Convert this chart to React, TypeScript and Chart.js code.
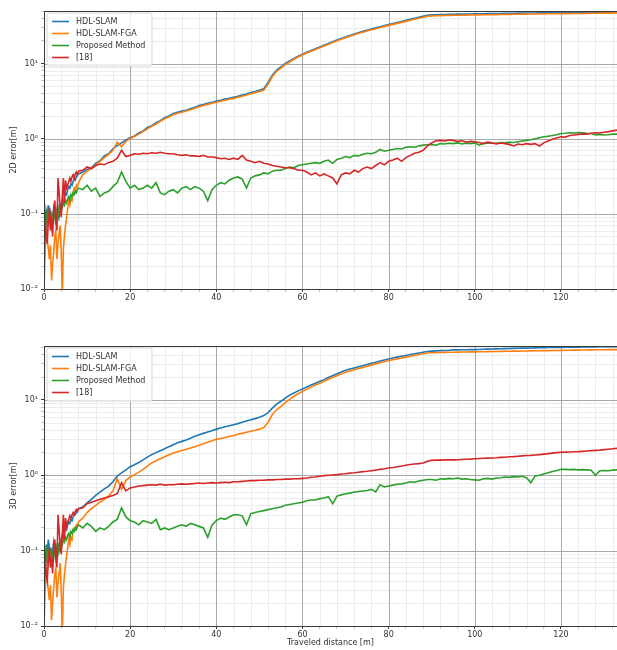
import React, { useEffect, useRef } from "react";
import { Chart, registerables } from "chart.js";
Chart.register(...registerables);

// ---------- data ----------
const DIST = [
  0, 0.25, 0.5, 0.75, 1, 1.25, 1.5, 1.75, 2, 2.25, 2.5, 2.75, 3, 3.25, 3.5, 3.75, 4, 4.25, 4.5, 4.75,
  5, 5.25, 5.5, 5.75, 6, 6.25, 6.5, 6.75, 7, 7.25, 7.5, 7.75, 8,
  9, 10, 11, 12, 13, 14, 15, 16, 17, 18,
  19, 20, 21, 22, 23, 24, 25, 26, 27, 28,
  29, 30, 31, 32, 33, 34, 35, 36, 37, 38,
  39, 40, 41, 42, 43, 44, 45, 46, 47, 48,
  49, 50, 51, 52, 53, 54, 55, 56, 57, 58,
  59, 60, 61, 62, 63, 64, 65, 66, 67, 68,
  69, 70, 71, 72, 73, 74, 75, 76, 77, 78,
  79, 80, 81, 82, 83, 84, 85, 86, 87, 88,
  89, 90, 91, 92, 93, 94, 95, 96, 97, 98,
  99, 100, 101, 102, 103, 104, 105, 106, 107, 108,
  109, 110, 111, 112, 113, 114, 115, 116, 117, 118,
  119, 120, 121, 122, 123, 124, 125, 126, 127, 128,
  129, 130, 131, 132, 133,
];

const SERIES_NAMES = ["HDL-SLAM", "HDL-SLAM-FGA", "Proposed Method", "[18]"];
const SERIES_COLORS = ["#1f77b4", "#ff7f0e", "#2ca02c", "#d62728"];

// 2D error
const TOP_HDL = [
  0.02, 0.05, 0.11, 0.09, 0.13, 0.08, 0.1, 0.07, 0.09, 0.12, 0.1, 0.08, 0.1, 0.12, 0.09, 0.11, 0.13, 0.15, 0.14, 0.17,
  0.19, 0.18, 0.21, 0.23, 0.22, 0.25, 0.24, 0.27, 0.29, 0.28, 0.31, 0.33, 0.34,
  0.36, 0.39, 0.41, 0.47, 0.51, 0.59, 0.63, 0.73, 0.81, 0.88,
  0.96, 1.03, 1.09, 1.19, 1.27, 1.41, 1.49, 1.63, 1.74, 1.9,
  2.0, 2.16, 2.24, 2.33, 2.39, 2.51, 2.61, 2.76, 2.84, 2.96,
  3.04, 3.16, 3.24, 3.36, 3.44, 3.56, 3.67, 3.81, 3.94, 4.11,
  4.24, 4.41, 4.6, 5.6, 7.0, 8.2, 9.0, 10.0, 10.8, 11.7,
  12.5, 13.3, 14.1, 14.9, 15.7, 16.6, 17.5, 18.5, 19.5, 20.5,
  21.5, 22.6, 23.6, 24.7, 25.7, 26.8, 27.8, 28.8, 29.8, 30.9,
  32, 33, 34.1, 35.2, 36.3, 37.5, 38.7, 40, 41.3, 42.6,
  44, 44.4, 44.6, 44.8, 45, 45.1, 45.3, 45.4, 45.5, 45.6,
  45.7, 45.8, 45.9, 46, 46.1, 46.2, 46.3, 46.4, 46.5, 46.6,
  46.7, 46.8, 46.9, 47, 47.1, 47.1, 47.2, 47.3, 47.4, 47.5,
  47.5, 47.6, 47.7, 47.7, 47.8, 47.9, 47.9, 48, 48.1, 48.1,
  48.2, 48.3, 48.3, 48.4, 48.5,
];
const TOP_FGA = [
  0.01, 0.03, 0.065, 0.045, 0.035, 0.025, 0.038, 0.013, 0.022, 0.03, 0.05, 0.06, 0.025, 0.04, 0.055, 0.07, 0.03, 0.008, 0.035, 0.05,
  0.07, 0.09, 0.12, 0.15, 0.13, 0.16, 0.15, 0.19, 0.22, 0.2, 0.24, 0.23, 0.26,
  0.33, 0.37, 0.4, 0.45, 0.5, 0.56, 0.62, 0.7, 0.9, 0.78,
  0.92, 1.0, 1.07, 1.15, 1.24, 1.35, 1.46, 1.57, 1.7, 1.84,
  1.95, 2.08, 2.18, 2.25, 2.33, 2.43, 2.54, 2.66, 2.76, 2.86,
  2.96, 3.05, 3.15, 3.24, 3.34, 3.44, 3.56, 3.68, 3.82, 3.96,
  4.1, 4.25, 4.4, 5.3, 6.7, 7.9, 8.7, 9.7, 10.5, 11.4,
  12.2, 13, 13.8, 14.6, 15.4, 16.2, 17.1, 18.1, 19.1, 20.1,
  21.1, 22.1, 23.1, 24.1, 25.1, 26.1, 27.1, 28.1, 29.1, 30.1,
  31.2, 32.2, 33.2, 34.2, 35.3, 36.4, 37.6, 38.8, 40, 41.3,
  42.6, 43, 43.2, 43.4, 43.6, 43.7, 43.8, 43.9, 44, 44.1,
  44.2, 44.3, 44.4, 44.5, 44.6, 44.7, 44.8, 44.9, 45, 45.1,
  45.2, 45.3, 45.4, 45.5, 45.6, 45.6, 45.7, 45.8, 45.9, 46,
  46, 46.1, 46.2, 46.2, 46.3, 46.4, 46.4, 46.5, 46.6, 46.6,
  46.7, 46.8, 46.8, 46.9, 47,
];
const TOP_PROPOSED = [
  0.03, 0.08, 0.1, 0.07, 0.09, 0.11, 0.08, 0.1, 0.09, 0.08, 0.11, 0.12, 0.1, 0.09, 0.12, 0.13, 0.11, 0.12, 0.14, 0.13,
  0.15, 0.14, 0.16, 0.17, 0.15, 0.18, 0.17, 0.19, 0.18, 0.2, 0.19, 0.21, 0.22,
  0.21, 0.24, 0.2, 0.22, 0.17, 0.19, 0.2, 0.23, 0.26, 0.36,
  0.27, 0.22, 0.24, 0.21, 0.22, 0.24, 0.22, 0.26, 0.19, 0.18,
  0.2, 0.21, 0.19, 0.22, 0.23, 0.21, 0.23, 0.22, 0.2, 0.15,
  0.21, 0.24, 0.26, 0.25, 0.28, 0.3, 0.31, 0.29, 0.22, 0.3,
  0.32, 0.33, 0.35, 0.34, 0.37, 0.38, 0.38, 0.4, 0.42, 0.41,
  0.44, 0.45, 0.46, 0.47, 0.48, 0.47, 0.5, 0.52, 0.47, 0.53,
  0.55, 0.58, 0.56, 0.6, 0.59, 0.62, 0.64, 0.63, 0.66, 0.72,
  0.68, 0.7, 0.72, 0.74, 0.73, 0.77, 0.78, 0.77, 0.8, 0.82,
  0.83, 0.84, 0.82, 0.86, 0.85, 0.87, 0.86, 0.88, 0.85, 0.87,
  0.86, 0.88, 0.82, 0.86, 0.88, 0.87, 0.87, 0.89, 0.88, 0.9,
  0.89, 0.91, 0.93, 0.95, 0.97, 1.0, 1.03, 1.06, 1.08, 1.1,
  1.13, 1.17, 1.18, 1.2, 1.19, 1.21, 1.2, 1.18, 1.17, 1.12,
  1.14, 1.12, 1.13, 1.15, 1.15,
];
const TOP_REF18 = [
  0.02, 0.11, 0.05, 0.04, 0.08, 0.12, 0.06, 0.09, 0.05, 0.11, 0.15, 0.08, 0.06, 0.3, 0.2, 0.12, 0.09, 0.17, 0.3, 0.14,
  0.28, 0.22, 0.24, 0.27, 0.3, 0.27, 0.31, 0.33, 0.3, 0.34, 0.36, 0.33, 0.37,
  0.38, 0.42, 0.4, 0.44, 0.46, 0.45, 0.48, 0.5, 0.55, 0.7,
  0.58, 0.6, 0.63, 0.62, 0.64, 0.63, 0.65, 0.64, 0.66, 0.64,
  0.63, 0.63, 0.61, 0.6, 0.61, 0.59, 0.59, 0.58, 0.6, 0.57,
  0.57, 0.56, 0.54, 0.55, 0.53, 0.55, 0.53, 0.6, 0.52, 0.5,
  0.48, 0.5, 0.47, 0.46, 0.44, 0.43, 0.42, 0.41, 0.41, 0.4,
  0.38, 0.38, 0.36, 0.33, 0.35, 0.32, 0.34, 0.32, 0.3, 0.25,
  0.33, 0.35, 0.34, 0.38, 0.36, 0.4, 0.42, 0.4, 0.44, 0.48,
  0.45, 0.5, 0.52, 0.55, 0.5, 0.56, 0.6, 0.64, 0.66, 0.7,
  0.8, 0.88, 0.94, 0.95, 0.93, 0.96, 0.95, 0.92, 0.94, 0.9,
  0.92, 0.91, 0.89, 0.86, 0.9, 0.88, 0.85, 0.88, 0.86, 0.84,
  0.8, 0.85, 0.83, 0.86, 0.84, 0.86, 0.8, 0.88, 0.93, 0.98,
  1.02, 1.06, 1.05, 1.1, 1.12, 1.14, 1.16, 1.15, 1.18, 1.2,
  1.19, 1.22, 1.24, 1.27, 1.3,
];

// 3D error
const BOT_HDL = [
  0.02, 0.06, 0.12, 0.09, 0.14, 0.08, 0.11, 0.07, 0.1, 0.13, 0.1, 0.08, 0.11, 0.12, 0.1, 0.12, 0.14, 0.16, 0.15, 0.18,
  0.2, 0.19, 0.22, 0.24, 0.23, 0.26, 0.25, 0.28, 0.3, 0.3, 0.32, 0.34, 0.36,
  0.38, 0.43, 0.48, 0.54, 0.6, 0.66, 0.72, 0.82, 0.98, 1.08,
  1.18, 1.3, 1.38, 1.48, 1.6, 1.74, 1.88, 2.0, 2.12, 2.25,
  2.4, 2.55, 2.7, 2.82, 2.95, 3.1, 3.3, 3.45, 3.6, 3.75,
  3.9, 4.1, 4.25, 4.4, 4.55, 4.7, 4.85, 5.05, 5.25, 5.45,
  5.65, 5.9, 6.2, 6.8, 7.8, 8.8, 9.6, 10.6, 11.6, 12.4,
  13.2, 14, 14.9, 15.8, 16.7, 17.6, 18.6, 19.8, 21, 22.2,
  23.5, 24.8, 25.7, 26.6, 27.6, 28.5, 29.5, 30.6, 31.7, 32.8,
  33.9, 35, 36, 37, 38, 39, 40, 41, 42, 43,
  44, 44.5, 44.8, 45.1, 45.4, 45.7, 46.3, 46.2, 46.3, 46.4,
  46.5, 46.6, 46.8, 47, 47.2, 47.4, 47.6, 47.8, 48, 48.2,
  48.3, 48.5, 48.7, 48.8, 49, 49.1, 49.3, 49.4, 49.6, 49.7,
  49.8, 49.9, 50, 50.1, 50.2, 50.3, 50.4, 50.5, 50.6, 50.7,
  50.8, 50.9, 50.9, 51, 51,
];
const BOT_FGA = [
  0.01, 0.028, 0.06, 0.042, 0.03, 0.022, 0.035, 0.012, 0.02, 0.032, 0.048, 0.058, 0.024, 0.038, 0.05, 0.068, 0.028, 0.008, 0.032, 0.048,
  0.065, 0.085, 0.11, 0.14, 0.12, 0.15, 0.14, 0.18, 0.2, 0.19, 0.22, 0.21, 0.24,
  0.27, 0.32, 0.36, 0.4, 0.44, 0.48, 0.53, 0.62, 0.9, 0.65,
  0.85, 0.95, 1.02, 1.1, 1.2, 1.32, 1.46, 1.56, 1.66, 1.76,
  1.87, 1.98, 2.06, 2.14, 2.22, 2.31, 2.4, 2.5, 2.62, 2.74,
  2.87, 3.0, 3.08, 3.17, 3.27, 3.38, 3.5, 3.6, 3.72, 3.84,
  3.96, 4.1, 4.3, 5.0, 6.4, 7.4, 8.2, 9.2, 10.2, 11.2,
  12.1, 13, 13.9, 14.8, 15.8, 16.7, 17.7, 18.8, 19.9, 21,
  22.1, 23.3, 24.2, 25.1, 26.1, 27, 28, 29, 30.1, 31.1,
  32.2, 33.3, 34.2, 35.1, 36, 37, 38, 39, 40, 41,
  42, 42.3, 42.5, 42.7, 42.8, 42.9, 43, 43.1, 43.2, 43.3,
  43.4, 43.5, 43.6, 43.7, 43.8, 43.9, 44, 44.1, 44.2, 44.3,
  44.4, 44.5, 44.6, 44.7, 44.8, 44.9, 45, 45.1, 45.2, 45.3,
  45.4, 45.5, 45.6, 45.7, 45.8, 45.9, 46, 46.1, 46.2, 46.3,
  46.4, 46.4, 46.5, 46.5, 46.6,
];
const BOT_PROPOSED = [
  0.03, 0.08, 0.1, 0.07, 0.09, 0.11, 0.08, 0.1, 0.09, 0.08, 0.11, 0.12, 0.1, 0.09, 0.12, 0.13, 0.11, 0.12, 0.14, 0.13,
  0.15, 0.14, 0.16, 0.17, 0.15, 0.18, 0.17, 0.19, 0.18, 0.2, 0.19, 0.21, 0.22,
  0.2, 0.23, 0.21, 0.18, 0.2, 0.19, 0.21, 0.24, 0.26, 0.37,
  0.28, 0.25, 0.24, 0.22, 0.25, 0.24, 0.23, 0.26, 0.19, 0.2,
  0.19, 0.2, 0.21, 0.22, 0.21, 0.23, 0.22, 0.21, 0.2, 0.15,
  0.22, 0.25, 0.27, 0.26, 0.28, 0.3, 0.3, 0.29, 0.22, 0.31,
  0.32, 0.33, 0.34, 0.35, 0.36, 0.37, 0.38, 0.4, 0.41, 0.42,
  0.43, 0.44, 0.46, 0.47, 0.47, 0.49, 0.5, 0.52, 0.42, 0.53,
  0.55, 0.57, 0.58, 0.6, 0.61, 0.62, 0.63, 0.65, 0.6, 0.75,
  0.7, 0.72, 0.74, 0.76, 0.77, 0.79, 0.82, 0.81, 0.84, 0.86,
  0.88, 0.88, 0.86, 0.9, 0.89, 0.91, 0.9, 0.92, 0.89, 0.9,
  0.88, 0.87, 0.86, 0.9, 0.91, 0.89, 0.92, 0.93, 0.95, 0.94,
  0.96, 0.95, 0.97, 0.93, 0.8, 0.98, 1.0, 1.04, 1.08, 1.12,
  1.16, 1.2, 1.2, 1.19, 1.2, 1.18, 1.19, 1.18, 1.17, 1.0,
  1.15, 1.16, 1.15, 1.17, 1.18,
];
const BOT_REF18 = [
  0.02, 0.1, 0.05, 0.04, 0.07, 0.11, 0.06, 0.08, 0.05, 0.1, 0.14, 0.08, 0.06, 0.3, 0.19, 0.12, 0.09, 0.16, 0.3, 0.14,
  0.27, 0.21, 0.24, 0.26, 0.29, 0.27, 0.3, 0.32, 0.3, 0.33, 0.35, 0.33, 0.36,
  0.37, 0.42, 0.44, 0.46, 0.48, 0.5, 0.52, 0.54, 0.57, 0.8,
  0.62, 0.68, 0.7, 0.72, 0.73, 0.74, 0.75, 0.74, 0.76, 0.74,
  0.75, 0.75, 0.76, 0.77, 0.76, 0.77, 0.78, 0.79, 0.78, 0.79,
  0.8, 0.79, 0.8, 0.81, 0.8, 0.82, 0.82, 0.83, 0.84, 0.85,
  0.85, 0.86, 0.86, 0.87, 0.87, 0.88, 0.88, 0.89, 0.89, 0.9,
  0.9, 0.91, 0.92, 0.94, 0.95, 0.97, 0.99, 1.0, 1.01, 1.02,
  1.04, 1.05, 1.07, 1.08, 1.1, 1.12, 1.13, 1.15, 1.17, 1.2,
  1.22, 1.25, 1.27, 1.3, 1.33, 1.36, 1.39, 1.41, 1.43, 1.46,
  1.53, 1.58, 1.59, 1.59, 1.6, 1.6, 1.6, 1.61, 1.62, 1.63,
  1.64, 1.66, 1.67, 1.68, 1.69, 1.7, 1.71, 1.73, 1.74, 1.76,
  1.77, 1.79, 1.81, 1.83, 1.84, 1.86, 1.88, 1.91, 1.94, 1.97,
  2.0, 2.02, 2.03, 2.04, 2.05, 2.06, 2.08, 2.1, 2.12, 2.14,
  2.16, 2.19, 2.22, 2.25, 2.28,
];

// ticks
const X_MIN = 0;
const X_MAX = 133;
const X_MAJOR = [0, 20, 40, 60, 80, 100, 120];
const X_MINOR_STEP = 4;
const Y_MIN = 0.01;
const Y_MAJOR = [0.01, 0.1, 1, 10];
const Y_MAJOR_LABELS = ["10⁻²", "10⁻¹", "10⁰", "10¹"];
const Y_MINOR_MULT = [2, 3, 4, 5, 6, 7, 8, 9];

// ---------- styling ----------
const FONT = { family: "DejaVu Sans", size: 8 };
const MAJOR_GRID = "#a9a9a9";
const MINOR_GRID = "#ececec";
const AXIS_COLOR = "#3a3a3a";
const TEXT_COLOR = "#333333";

function xTickValues(): number[] {
  const out: number[] = [];
  for (let v = X_MIN; v <= X_MAX; v += X_MINOR_STEP) out.push(v);
  return out;
}
function yTickValues(max: number): number[] {
  const out: number[] = [];
  Y_MAJOR.forEach((m) => {
    out.push(m);
    Y_MINOR_MULT.forEach((k) => {
      const v = +(m * k).toPrecision(3);
      if (v <= max) out.push(v);
    });
  });
  return out.filter((v) => v <= max).sort((a, b) => a - b);
}
const isXMajor = (v: number) => X_MAJOR.indexOf(v) >= 0;
const yMajorIndex = (v: number) => Y_MAJOR.findIndex((m) => Math.abs(Math.log10(v) - Math.log10(m)) < 1e-6);

const gridPlugin = {
  id: "mplGrid",
  beforeDatasetsDraw(chart: any) {
    const ctx = chart.ctx as CanvasRenderingContext2D;
    const a = chart.chartArea;
    const xs = chart.scales.x;
    const ys = chart.scales.y;
    const yVals: number[] = ys.ticks.map((t: any) => t.value);
    const xVals: number[] = xs.ticks.map((t: any) => t.value);
    ctx.save();
    ctx.lineWidth = 1;
    const vLine = (v: number, color: string) => {
      const px = Math.round(xs.getPixelForValue(v)) + 0.5;
      if (px < a.left || px > a.right) return;
      ctx.strokeStyle = color;
      ctx.beginPath();
      ctx.moveTo(px, a.top);
      ctx.lineTo(px, a.bottom);
      ctx.stroke();
    };
    const hLine = (v: number, color: string) => {
      const py = Math.round(ys.getPixelForValue(v)) + 0.5;
      if (py < a.top || py > a.bottom + 1) return;
      ctx.strokeStyle = color;
      ctx.beginPath();
      ctx.moveTo(a.left, py);
      ctx.lineTo(a.right, py);
      ctx.stroke();
    };
    xVals.filter((v) => !isXMajor(v)).forEach((v) => vLine(v, MINOR_GRID));
    yVals.filter((v) => yMajorIndex(v) < 0).forEach((v) => hLine(v, MINOR_GRID));
    xVals.filter((v) => isXMajor(v)).forEach((v) => vLine(v, MAJOR_GRID));
    yVals.filter((v) => yMajorIndex(v) >= 0).forEach((v) => hLine(v, MAJOR_GRID));
    ctx.restore();
  },
};

const legendPlugin = {
  id: "boxLegend",
  afterDatasetsDraw(chart: any) {
    const ctx = chart.ctx as CanvasRenderingContext2D;
    const a = chart.chartArea;
    const x0 = a.left + 3;
    const y0 = a.top + 2;
    const w = 105;
    const h = 53;
    ctx.save();
    ctx.beginPath();
    const r = 2;
    ctx.moveTo(x0 + r, y0);
    ctx.lineTo(x0 + w - r, y0);
    ctx.quadraticCurveTo(x0 + w, y0, x0 + w, y0 + r);
    ctx.lineTo(x0 + w, y0 + h - r);
    ctx.quadraticCurveTo(x0 + w, y0 + h, x0 + w - r, y0 + h);
    ctx.lineTo(x0 + r, y0 + h);
    ctx.quadraticCurveTo(x0, y0 + h, x0, y0 + h - r);
    ctx.lineTo(x0, y0 + r);
    ctx.quadraticCurveTo(x0, y0, x0 + r, y0);
    ctx.closePath();
    ctx.fillStyle = "rgba(255,255,255,0.8)";
    ctx.fill();
    ctx.strokeStyle = "#d6d6d6";
    ctx.lineWidth = 1;
    ctx.stroke();
    ctx.font = `${FONT.size}px "${FONT.family}"`;
    ctx.textBaseline = "middle";
    ctx.textAlign = "left";
    SERIES_NAMES.forEach((name, i) => {
      const y = y0 + 8.5 + i * 12;
      ctx.strokeStyle = SERIES_COLORS[i];
      ctx.lineWidth = 1.6;
      ctx.beginPath();
      ctx.moveTo(x0 + 5, y);
      ctx.lineTo(x0 + 22, y);
      ctx.stroke();
      ctx.fillStyle = TEXT_COLOR;
      ctx.fillText(name, x0 + 29, y);
    });
    ctx.restore();
  },
  afterDraw(chart: any) {
    const ctx = chart.ctx as CanvasRenderingContext2D;
    const a = chart.chartArea;
    ctx.save();
    ctx.strokeStyle = AXIS_COLOR;
    ctx.lineWidth = 1;
    ctx.beginPath();
    ctx.moveTo(a.right, a.top + 0.5);
    ctx.lineTo(a.left + 0.5, a.top + 0.5);
    ctx.lineTo(a.left + 0.5, a.bottom + 0.5);
    ctx.lineTo(a.right, a.bottom + 0.5);
    ctx.stroke();
    ctx.restore();
  },
};

function makeConfig(
  series: number[][],
  yTitle: string,
  xTitle: string,
  yMax: number,
  padTop: number,
  xHeight: number
): any {
  const order = [3, 2, 1, 0];
  const datasets = series.map((vals, i) => ({
    label: SERIES_NAMES[i],
    data: DIST.map((d, j) => ({ x: d, y: vals[j] })),
    borderColor: SERIES_COLORS[i],
    backgroundColor: SERIES_COLORS[i],
    borderWidth: 1.6,
    pointRadius: 0,
    tension: 0,
    fill: false,
    order: order[i],
  }));
  const yTicks = yTickValues(yMax);
  return {
    type: "line",
    data: { datasets },
    plugins: [gridPlugin, legendPlugin],
    options: {
      animation: false,
      responsive: false,
      events: [],
      layout: { padding: { top: padTop, left: 0, right: 0, bottom: 0 } },
      plugins: { legend: { display: false }, tooltip: { enabled: false } },
      scales: {
        x: {
          type: "linear",
          min: X_MIN,
          max: X_MAX,
          afterBuildTicks: (axis: any) => {
            axis.ticks = xTickValues().map((v) => ({ value: v }));
          },
          afterFit: (axis: any) => {
            axis.height = xHeight;
          },
          ticks: {
            autoSkip: false,
            maxRotation: 0,
            padding: 1,
            font: FONT,
            color: TEXT_COLOR,
            callback: (v: number) => (isXMajor(v) ? String(v) : ""),
          },
          grid: {
            drawOnChartArea: false,
            tickColor: (c: any) => (c.tick && isXMajor(c.tick.value) ? AXIS_COLOR : "#c4c4c4"),
            tickLength: 3,
            lineWidth: 1,
          },
          border: { display: true, color: AXIS_COLOR, width: 1 },
          title: {
            display: xTitle !== "",
            text: xTitle,
            font: FONT,
            color: TEXT_COLOR,
            padding: { top: 0, bottom: 2 },
          },
        },
        y: {
          type: "logarithmic",
          min: Y_MIN,
          max: yMax,
          afterBuildTicks: (axis: any) => {
            axis.ticks = yTicks.map((v) => ({ value: v }));
          },
          afterFit: (axis: any) => {
            axis.width = 44;
          },
          ticks: {
            autoSkip: false,
            padding: 3,
            font: FONT,
            color: TEXT_COLOR,
            callback: (v: number) => {
              const k = yMajorIndex(v);
              return k >= 0 ? Y_MAJOR_LABELS[k] : "";
            },
          },
          grid: {
            drawOnChartArea: false,
            tickColor: (c: any) => (c.tick && yMajorIndex(c.tick.value) >= 0 ? AXIS_COLOR : "#c4c4c4"),
            tickLength: 3,
            lineWidth: 1,
          },
          border: { display: true, color: AXIS_COLOR, width: 1 },
          title: {
            display: true,
            text: yTitle,
            font: FONT,
            color: TEXT_COLOR,
            padding: { top: 9, bottom: 0 },
          },
        },
      },
    },
  };
}

export default function App() {
  const topRef = useRef<HTMLCanvasElement>(null);
  const botRef = useRef<HTMLCanvasElement>(null);
  useEffect(() => {
    const c1 = new Chart(
      topRef.current as HTMLCanvasElement,
      makeConfig([TOP_HDL, TOP_FGA, TOP_PROPOSED, TOP_REF18], "2D error[m]", "", 50, 11, 41)
    );
    const c2 = new Chart(
      botRef.current as HTMLCanvasElement,
      makeConfig([BOT_HDL, BOT_FGA, BOT_PROPOSED, BOT_REF18], "3D error[m]", "Traveled distance [m]", 52, 16, 24)
    );
    return () => {
      c1.destroy();
      c2.destroy();
    };
  }, []);
  return (
    <div
      style={{
        position: "absolute",
        left: 0,
        top: 0,
        width: 617,
        height: 650,
        overflow: "hidden",
        background: "#ffffff",
      }}
    >
      <canvas ref={topRef} width={617} height={330} style={{ position: "absolute", left: 0, top: 0, display: "block" }} />
      <canvas ref={botRef} width={617} height={320} style={{ position: "absolute", left: 0, top: 330, display: "block" }} />
    </div>
  );
}
